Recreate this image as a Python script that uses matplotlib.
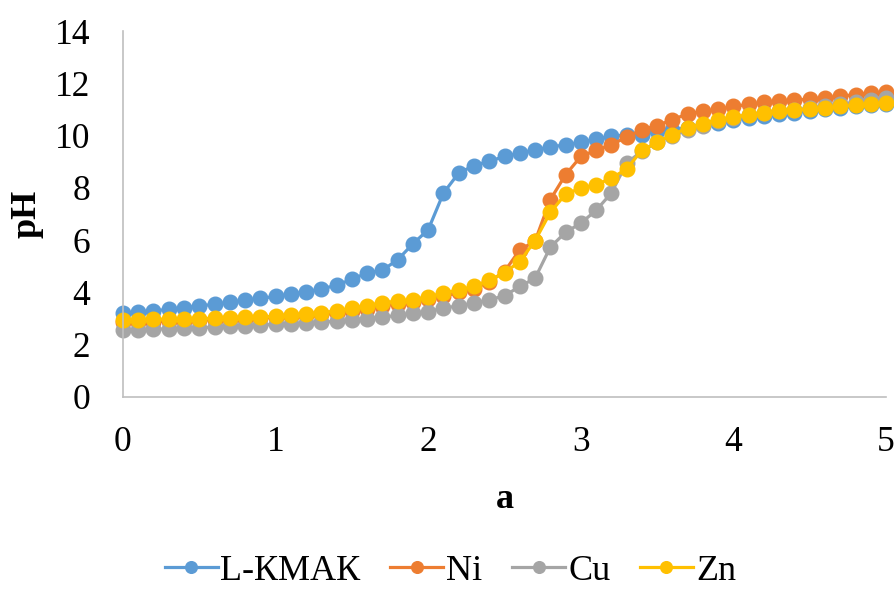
import matplotlib.pyplot as plt
import numpy as np

# dữ liệu
a = np.round(np.arange(0, 5.01, 0.1), 1)

ph_lkmak = [3.2, 3.25, 3.3, 3.35, 3.42, 3.48, 3.55, 3.62, 3.7, 3.77,
            3.85, 3.93, 4.03, 4.13, 4.28, 4.5, 4.75, 4.85, 5.25, 5.86,
            6.4, 7.8, 8.57, 8.85, 9.02, 9.2, 9.33, 9.46, 9.56, 9.65,
            9.74, 9.87, 9.98, 10.02, 10.04, 10.17, 10.23, 10.3, 10.4, 10.5,
            10.6, 10.68, 10.75, 10.82, 10.88, 10.94, 11.0, 11.06, 11.12, 11.17,
            11.22]
ph_ni = [2.85, 2.87, 2.88, 2.9, 2.92, 2.94, 2.96, 2.98, 3.0, 3.02,
         3.05, 3.08, 3.12, 3.16, 3.2, 3.3, 3.38, 3.48, 3.56, 3.65,
         3.75, 3.85, 4.0, 4.15, 4.4, 4.8, 5.63, 5.96, 7.55, 8.5,
         9.2, 9.44, 9.65, 9.94, 10.23, 10.38, 10.61, 10.83, 10.93, 11.0,
         11.12, 11.19, 11.27, 11.31, 11.35, 11.4, 11.44, 11.5, 11.57, 11.63,
         11.66]
ph_cu = [2.55, 2.57, 2.59, 2.61, 2.63, 2.65, 2.67, 2.7, 2.72, 2.75,
         2.78, 2.8, 2.83, 2.86, 2.9, 2.95, 3.0, 3.06, 3.12, 3.2,
         3.27, 3.4, 3.49, 3.59, 3.72, 3.87, 4.23, 4.54, 5.73, 6.3,
         6.65, 7.14, 7.8, 8.95, 9.4, 9.75, 10.0, 10.2, 10.35, 10.55,
         10.68, 10.78, 10.86, 10.93, 10.99, 11.05, 11.12, 11.2, 11.28, 11.36,
         11.45]
ph_zn = [2.95, 2.96, 2.97, 2.98, 2.99, 3.0, 3.01, 3.03, 3.05, 3.07,
         3.08, 3.12, 3.17, 3.22, 3.3, 3.4, 3.5, 3.61, 3.67, 3.72,
         3.84, 3.97, 4.1, 4.23, 4.46, 4.76, 5.18, 5.98, 7.06, 7.76,
         7.99, 8.12, 8.37, 8.72, 9.44, 9.74, 10.04, 10.29, 10.46, 10.61,
         10.71, 10.8, 10.87, 10.93, 10.97, 11.02, 11.06, 11.12, 11.16, 11.21,
         11.25]

labels = ['L-КМАК', 'Ni', 'Cu', 'Zn']
colors = ['#5B9BD5', '#ED7D31', '#A5A5A5', '#FFC000']

plt.rcParams['font.family'] = ['Liberation Serif', 'DejaVu Serif']

fig = plt.figure(figsize=(8.95, 5.92), dpi=100)
ax = fig.add_axes([0.1374, 0.3294, 0.8526, 0.6182])

for y, lab, c in zip([ph_lkmak, ph_ni, ph_cu, ph_zn], labels, colors):
    ax.plot(a, y, '-o', color=c, lw=2.3, ms=10.5, label=lab, clip_on=False)

ax.set_xlim(0, 5)
ax.set_ylim(0, 14)
ax.set_xticks(range(0, 6))
ax.set_yticks(range(0, 15, 2))
ax.tick_params(length=0, labelsize=25.5)
ax.tick_params(axis='y', pad=23.5)
ax.tick_params(axis='x', pad=21)

for s in ['top', 'right']:
    ax.spines[s].set_visible(False)
for s in ['left', 'bottom']:
    ax.spines[s].set_color('#BFBFBF')
    ax.spines[s].set_linewidth(1.2)

ax.set_xlabel('a', fontsize=26, fontweight='bold', labelpad=17)
ax.set_ylabel('pH', fontsize=26, fontweight='bold', labelpad=8)

fig.legend(loc='center', bbox_to_anchor=(0.503, 0.035), ncol=4, frameon=False,
           fontsize=26, handlelength=1.47, handletextpad=0.08, columnspacing=0.82,
           markerscale=0.8, borderaxespad=0, borderpad=0)

plt.savefig('out.png', dpi=100)
plt.close()
